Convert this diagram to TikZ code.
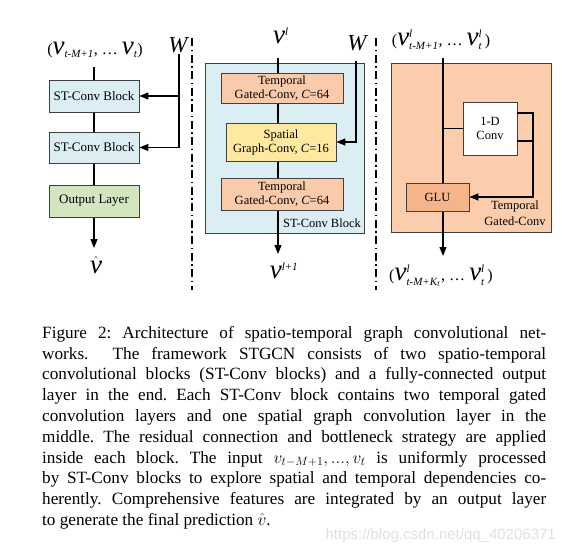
\documentclass[tikz,border=0pt]{standalone}
\usepackage{fontspec}
\setmainfont{Liberation Serif}
\setsansfont{Liberation Sans}
\usetikzlibrary{positioning,calc,arrows.meta}

\definecolor{blockblue}{HTML}{DAEEF3}
\definecolor{outgreen}{HTML}{D3E6C0}
\definecolor{tempsalmon}{HTML}{F9CBAB}
\definecolor{spatyellow}{HTML}{FFE8A0}
\definecolor{gatepeach}{HTML}{FBCDAC}
\definecolor{glusalmon}{HTML}{F5B48A}
\definecolor{edgegray}{HTML}{404040}

\newcommand{\vsym}{\mbox{\fontsize{27}{27}\selectfont\itshape v}}
\newcommand{\ix}[1]{\mbox{\fontsize{11}{11}\selectfont\itshape #1}}

\tikzset{
  layer/.style={draw=edgegray, line width=0.8pt, align=center, inner sep=0pt,
    font=\fontsize{12.5}{14}\selectfont},
  flow/.style={line width=1.2pt, -{Triangle[length=9pt,width=7pt]}},
  wire/.style={line width=1.2pt},
  divider/.style={line width=1.3pt, dash pattern=on 8pt off 3.5pt on 1.5pt off 3.5pt},
  iolabel/.style={inner sep=0pt, font=\fontsize{16}{16}\selectfont},
}

\begin{document}
\begin{tikzpicture}[x=1pt,y=-1pt]
    \useasboundingbox (0,0) rectangle (562,557);
    % Dividers
    \draw[divider] (192,38) -- (192,290);
    \draw[divider] (376,38) -- (376,290);

    % Left: whole network
    \coordinate (intop) at (94,67);
    \coordinate (inbot) at (94,248);
    \draw[flow] (intop) -- (inbot);
    \node[iolabel] (input) at (95,50) {($\vsym_{\ix{t-M+1}}$, \dots\ $\vsym_{\ix{t}}$)};
    \node[layer, fill=blockblue, minimum width=90pt, minimum height=32pt,
      font=\fontsize{13}{14}\selectfont] (blk1) at (94,96) {ST-Conv Block};
    \node[layer, fill=blockblue, minimum width=90pt, minimum height=31pt,
      font=\fontsize{13}{14}\selectfont] (blk2) at (94,147.5) {ST-Conv Block};
    \node[layer, fill=outgreen, minimum width=90pt, minimum height=32pt,
      font=\fontsize{13}{14}\selectfont] (outlayer) at (94,201) {Output Layer};
    \node[iolabel] (vhat) at (96,265) {$\hat{\vsym}$};
    \node[iolabel, font=\fontsize{23}{23}\selectfont\itshape] (wleft) at (178,45) {W};
    \coordinate (wlefttop) at (179,54);
    \draw[flow] (wlefttop) |- (blk2.east);
    \draw[flow] (wlefttop |- blk1.east) -- (blk1.east);

    % Middle: ST-Conv block
    \node[draw=edgegray, line width=0.8pt, fill=blockblue, minimum width=159pt,
      minimum height=170pt] (stblock) at (284.5,148) {};
    \coordinate (midtop) at (278,58);
    \coordinate (midbot) at (278,254);
    \draw[flow] (midtop) -- (midbot);
    \node[iolabel] (vl) at (281,36) {$\vsym^{\ix{l}}$};
    \node[iolabel] (vlnext) at (284,271) {$\vsym^{\ix{l+1}}$};
    \node[layer, fill=tempsalmon, minimum width=122pt, minimum height=30pt] (temp1)
      at (282,88) {Temporal\\Gated-Conv, \textit{C}=64};
    \node[layer, fill=spatyellow, minimum width=110pt, minimum height=38pt] (spatial)
      at (281,142) {Spatial\\Graph-Conv, \textit{C}=16};
    \node[layer, fill=tempsalmon, minimum width=122pt, minimum height=32pt] (temp2)
      at (282,194) {Temporal\\Gated-Conv, \textit{C}=64};
    \node[inner sep=0pt, font=\fontsize{12.5}{14}\selectfont] (stname) at (322,223) {ST-Conv Block};
    \node[iolabel, font=\fontsize{23}{23}\selectfont\itshape] (wmid) at (357,43) {W};
    \coordinate (wmidtop) at (356,61);
    \draw[flow] (wmidtop) |- (spatial.east);

    % Right: temporal gated-conv
    \node[draw=edgegray, line width=0.8pt, fill=gatepeach, minimum width=160pt,
      minimum height=169pt] (gatebox) at (471,147.5) {};
    \coordinate (rtop) at (443,58);
    \coordinate (rbot) at (443,256);
    \draw[flow] (rtop) -- (rbot);
    \node[iolabel] (rin) at (441,40) {($\vsym^{\ix{l}}_{\ix{t-M+1}}$, \dots\ $\vsym^{\ix{l}}_{\ix{t}}$\,)};
    \node[iolabel] (rout) at (441,276) {($\vsym^{\ix{l}}_{\ix{t-M+K$_t$}}$, \dots\ $\vsym^{\ix{l}}_{\ix{t}}$\,)};
    \node[layer, fill=white, minimum width=54pt, minimum height=53pt] (conv)
      at (490,128.5) {1-D\\Conv};
    \node[layer, fill=glusalmon, minimum width=63pt, minimum height=28pt] (glu)
      at (437.5,197) {GLU};
    \coordinate (gateR) at (533,141);
    \draw[wire] (conv.west -| rtop) -- (conv.west);
    \draw[wire] ([yshift=15.5pt]conv.east) -| (gateR);
    \draw[wire] ([yshift=-12.5pt]conv.east) -- (gateR);
    \draw[flow] (gateR) |- (glu.east);
    \node[inner sep=0pt, align=center, font=\fontsize{12.5}{16}\selectfont] (gatename)
      at (515,213) {Temporal\\Gated-Conv};

    % Caption
    \node[inner sep=0pt, anchor=north west, text width=504pt, align=justify,
      font=\fontsize{17.2}{20.8}\selectfont\frenchspacing] (caption) at (42,326)
      {Figure 2: Architecture of spatio-temporal graph convolutional net-\linebreak
      works. \ The framework STGCN consists of two spatio-temporal\linebreak
      convolutional blocks (ST-Conv blocks) and a fully-connected output\linebreak
      layer in the end. Each ST-Conv block contains two temporal gated\linebreak
      convolution layers and one spatial graph convolution layer in the\linebreak
      middle. The residual connection and bottleneck strategy are applied\linebreak
      inside each block. The input $v_{t-M+1}, ..., v_t$ is uniformly processed\linebreak
      by ST-Conv blocks to explore spatial and temporal dependencies co-\linebreak
      herently. Comprehensive features are integrated by an output layer\linebreak
      to generate the final prediction $\hat{v}$.};
    \node[inner sep=0pt, anchor=east, text=black!12, font=\sffamily\fontsize{15}{15}\selectfont]
      (mark) at (556,536) {https://blog.csdn.net/qq\_40206371};
\end{tikzpicture}
\end{document}
